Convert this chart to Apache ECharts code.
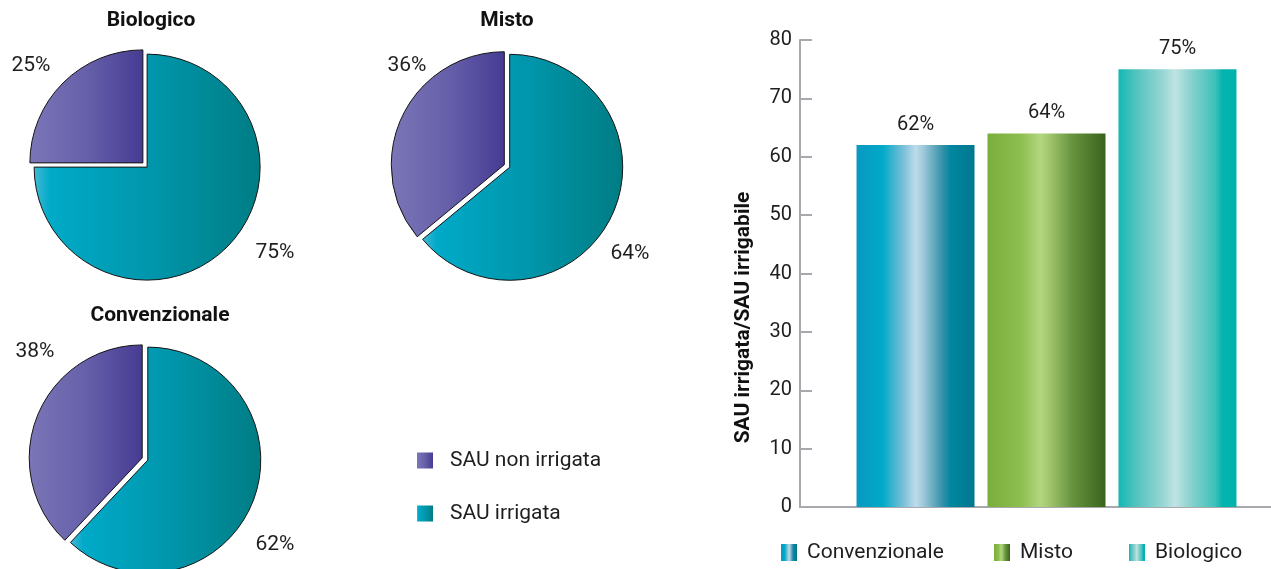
<!DOCTYPE html>
<html>
<head>
<meta charset="utf-8">
<script src="https://cdn.jsdelivr.net/npm/echarts@6/dist/echarts.min.js"></script>
<style>
  html, body { margin: 0; padding: 0; background: #ffffff; }
  #chart { width: 1271px; height: 569px; }
</style>
</head>
<body>
<div id="chart"></div>
<script>
// ---- data ----
const farmTypes = ['Convenzionale', 'Misto', 'Biologico'];
const irrigatedShare = [62, 64, 75];          // SAU irrigata / SAU irrigabile (%)
const pieTitles = ['Biologico', 'Misto', 'Convenzionale'];
const areaClasses = ['SAU non irrigata', 'SAU irrigata'];
const nonIrrigatedPct = [25, 36, 38];
const irrigatedPct = [75, 64, 62];
const yAxisMin = 0, yAxisMax = 80, yAxisStep = 10;

// ---- styling ----
const FONT = 'Roboto, "DejaVu Sans", sans-serif';
const TEXT = '#1e1e1e';
const AXIS = '#a9a9ad';

function hGrad(stops) {
  return {
    type: 'linear', x: 0, y: 0, x2: 1, y2: 0,
    colorStops: stops.map(s => ({ offset: s[0], color: s[1] }))
  };
}

const purpleFill = hGrad([[0, '#7b76b7'], [0.5, '#6660aa'], [1, '#463b93']]);
const tealFill = hGrad([[0, '#46b9d3'], [0.07, '#00aac8'], [0.5, '#0097ad'], [1, '#007d84']]);
const classFills = [purpleFill, tealFill];

const barFills = [
  hGrad([[0, '#0a98c0'], [0.22, '#00a9c8'], [0.4, '#7cc0d8'], [0.5, '#bcdcea'],
         [0.56, '#a2cbdb'], [0.72, '#3a93ab'], [0.8, '#00879f'], [1, '#00778e']]),
  hGrad([[0, '#7aae3c'], [0.28, '#8dbe4f'], [0.45, '#b3d680'], [0.5, '#a7cc73'],
         [0.72, '#67933e'], [1, '#3a631c']]),
  hGrad([[0, '#12b8b3'], [0.12, '#48c1bd'], [0.38, '#9ad6d4'], [0.48, '#bfe4e3'],
         [0.6, '#8ed3d0'], [0.82, '#3ec0ba'], [0.88, '#05b4ae'], [1, '#00b1ab']])
];

// pie geometry: centre and where the two percentage labels sit relative to it
const pieLayout = [
  { center: [145, 165], labels: [[-114, -99], [130, 88]] },
  { center: [507, 166], labels: [[-100, -100], [123, 88]] },
  { center: [145, 459], labels: [[-110, -107], [130, 86]] }
];
const PIE_R = 113;

const pieSeries = pieTitles.map((title, i) => ({
  type: 'pie',
  name: title,
  center: pieLayout[i].center,
  radius: PIE_R,
  startAngle: 90,
  clockwise: false,
  selectedMode: 'multiple',
  selectedOffset: 3,
  itemStyle: { borderColor: '#141414', borderWidth: 1 },
  select: { itemStyle: { borderColor: '#141414', borderWidth: 1 } },
  emphasis: { scale: false },
  label: { show: false },
  labelLine: { show: false },
  data: [
    { name: areaClasses[0], value: nonIrrigatedPct[i], selected: true, itemStyle: { color: purpleFill } },
    { name: areaClasses[1], value: irrigatedPct[i], selected: true, itemStyle: { color: tealFill } }
  ]
}));

// percentage labels beside each pie
const pieLabels = [];
pieTitles.forEach((t, i) => {
  const vals = [nonIrrigatedPct[i], irrigatedPct[i]];
  vals.forEach((v, k) => {
    const c = pieLayout[i].center, o = pieLayout[i].labels[k];
    pieLabels.push({
      type: 'text',
      x: c[0] + o[0], y: c[1] + o[1],
      silent: true,
      style: {
        text: v + '%', fill: TEXT,
        font: '21px ' + FONT,
        align: 'center', verticalAlign: 'middle',
        textAlign: 'center', textVerticalAlign: 'middle'
      }
    });
  });
});

const barSeries = farmTypes.map((name, i) => ({
  type: 'bar',
  name: name,
  barWidth: 118,
  barGap: '11%',
  itemStyle: { color: barFills[i] },
  emphasis: { disabled: true },
  label: {
    show: true, position: 'top', distance: 10, formatter: '{c}%',
    fontFamily: FONT, fontSize: 20, color: TEXT
  },
  data: [irrigatedShare[i]]
}));

const barLegendLeft = [781, 994, 1129];

const option = {
  animation: false,
  textStyle: { fontFamily: FONT },
  title: [
    { text: pieTitles[0], left: 151, top: 10 },
    { text: pieTitles[1], left: 507, top: 10 },
    { text: pieTitles[2], left: 160, top: 305 }
  ].map(t => Object.assign(t, {
    textAlign: 'center', padding: 0,
    textStyle: { fontFamily: FONT, fontSize: 21, fontWeight: 'bold', color: '#111' }
  })),
  legend: [
    {
      data: areaClasses.map((n, k) => ({
        name: n, icon: 'rect',
        itemStyle: { color: classFills[k], borderWidth: 0 }
      })),
      orient: 'vertical',
      left: 417, top: 450,
      padding: 0,
      itemWidth: 16, itemHeight: 16, itemGap: 32,
      selectedMode: false,
      textStyle: { fontFamily: FONT, fontSize: 21, color: TEXT, padding: [0, 0, 0, 12] }
    }
  ].concat(farmTypes.map((name, i) => ({
    data: [{ name: name, icon: 'rect', itemStyle: { color: barFills[i], borderWidth: 0 } }],
    left: barLegendLeft[i], top: 542,
    padding: 0,
    itemWidth: 16, itemHeight: 17,
    selectedMode: false,
    textStyle: { fontFamily: FONT, fontSize: 21, color: TEXT, padding: [0, 0, 0, 5] }
  }))),
  grid: {
    left: 800, top: 40, width: 493, height: 467,
    containLabel: false, outerBoundsMode: 'none'
  },
  xAxis: {
    type: 'category',
    data: ['SAU'],
    axisLine: { show: true, lineStyle: { color: AXIS, width: 2 } },
    axisTick: { show: false },
    axisLabel: { show: false },
    splitLine: { show: false }
  },
  yAxis: {
    type: 'value',
    min: yAxisMin, max: yAxisMax, interval: yAxisStep,
    name: 'SAU irrigata/SAU irrigabile',
    nameLocation: 'middle',
    nameGap: 46,
    nameTextStyle: {
      fontFamily: FONT, fontSize: 21, fontWeight: 'bold', color: '#111',
      padding: [0, 88, 0, 0]
    },
    axisLine: { show: true, lineStyle: { color: AXIS, width: 2 } },
    axisTick: { show: true, inside: true, length: 12, lineStyle: { color: AXIS, width: 2 } },
    axisLabel: { fontFamily: FONT, fontSize: 20, color: TEXT, margin: 8 },
    splitLine: { show: false }
  },
  graphic: { elements: pieLabels },
  series: pieSeries.concat(barSeries)
};

const chart = echarts.init(document.getElementById('chart'), null, { renderer: 'canvas' });
chart.setOption(option);
</script>
</body>
</html>
